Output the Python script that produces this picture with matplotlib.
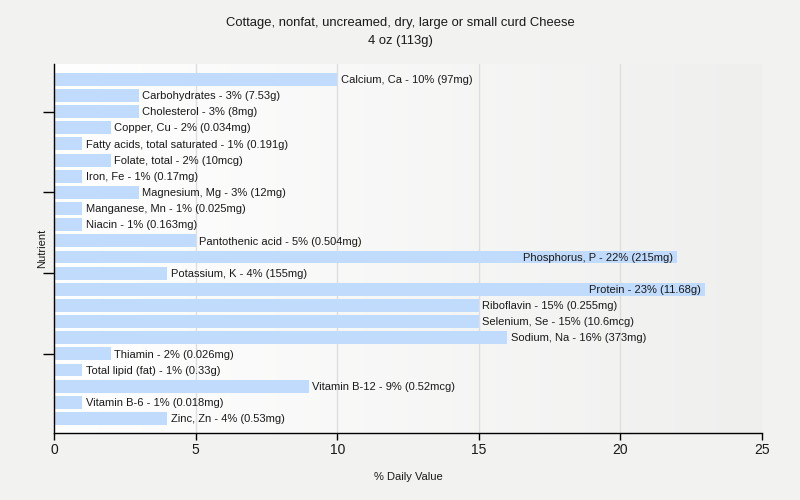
import matplotlib
matplotlib.use("Agg")
import matplotlib.pyplot as plt
import numpy as np
from matplotlib.colors import LinearSegmentedColormap

title_lines = ["Cottage, nonfat, uncreamed, dry, large or small curd Cheese", "4 oz (113g)"]
nutrients = ["Calcium, Ca", "Carbohydrates", "Cholesterol", "Copper, Cu",
             "Fatty acids, total saturated", "Folate, total", "Iron, Fe",
             "Magnesium, Mg", "Manganese, Mn", "Niacin", "Pantothenic acid",
             "Phosphorus, P", "Potassium, K", "Protein", "Riboflavin",
             "Selenium, Se", "Sodium, Na", "Thiamin", "Total lipid (fat)",
             "Vitamin B-12", "Vitamin B-6", "Zinc, Zn"]
values = [10, 3, 3, 2, 1, 2, 1, 3, 1, 1, 5, 22, 4, 23, 15, 15, 16, 2, 1, 9, 1, 4]
amounts = ["97mg", "7.53g", "8mg", "0.034mg", "0.191g", "10mcg", "0.17mg",
           "12mg", "0.025mg", "0.163mg", "0.504mg", "215mg", "155mg", "11.68g",
           "0.255mg", "10.6mcg", "373mg", "0.026mg", "0.33g", "0.52mcg",
           "0.018mg", "0.53mg"]
x_ticks = [0, 5, 10, 15, 20, 25]
y_tick_rows = [2, 7, 12, 17]

font = "Liberation Sans"
txt_color = "#1a1a1a"

fig = plt.figure(figsize=(8, 5), dpi=100, facecolor="#f2f2f1")
ax = fig.add_axes([54/800, 67/500, 708/800, 369/500])
ax.set_facecolor("#f2f2f1")

# background gradient of plot area
grad = np.linspace(1.0, 0.0, 256)[None, :]
cmap = LinearSegmentedColormap.from_list("bg", ["#efefee", "#ffffff"])
ax.imshow(grad, extent=[0, 1, 0, 1], transform=ax.transAxes, aspect="auto",
          cmap=cmap, zorder=0)

n = len(nutrients)
ypos = np.arange(n)
for g in x_ticks[1:-1]:
    ax.axvline(g, color="#dedede", lw=1, zorder=1)
ax.barh(ypos, values, height=0.8, color="#c0dbfb", zorder=2)

ax.set_xlim(0, 25)
ax.set_ylim(n - 1 + 0.9, -0.95)

fig.canvas.draw()
renderer = fig.canvas.get_renderer()
ax_right = ax.get_window_extent(renderer).x1
for i, (nm, v, a) in enumerate(zip(nutrients, values, amounts)):
    label = f"{nm} - {v}% ({a})"
    t = ax.annotate(label, xy=(v, i), xytext=(2.5, -0.5), textcoords="offset points",
                    ha="left", va="center", fontsize=8, family=font,
                    color=txt_color, zorder=3)
    bb = t.get_window_extent(renderer)
    if bb.x1 > ax_right:
        t.set_position((-3, -0.5))
        t.set_ha("right")

ax.set_xticks(x_ticks)
ax.set_xticklabels([str(x) for x in x_ticks], fontsize=10, family=font, color=txt_color)
ax.set_yticks(y_tick_rows)
ax.set_yticklabels([])
ax.tick_params(axis="x", direction="out", length=5, width=1, color="black", pad=2)
ax.tick_params(axis="y", direction="out", length=8, width=1, color="black")

for s in ["top", "right"]:
    ax.spines[s].set_visible(False)
for s in ["left", "bottom"]:
    ax.spines[s].set_color("black")
    ax.spines[s].set_linewidth(1)

ax.set_xlabel("% Daily Value", fontsize=8, family=font, color=txt_color)
ax.xaxis.set_label_coords(0.5, -(472 - 433) / 369)
ax.set_ylabel("Nutrient", fontsize=8, family=font, color=txt_color)
ax.yaxis.set_label_coords(-(54 - 47) / 708, 0.5)

fig.text(0.5, 1 - 23/500, title_lines[0], ha="center", va="center", fontsize=9.4,
         family=font, color=txt_color)
fig.text(0.5, 1 - 41/500, title_lines[1], ha="center", va="center", fontsize=9.4,
         family=font, color=txt_color)

fig.savefig("out.png", dpi=100, facecolor=fig.get_facecolor())
